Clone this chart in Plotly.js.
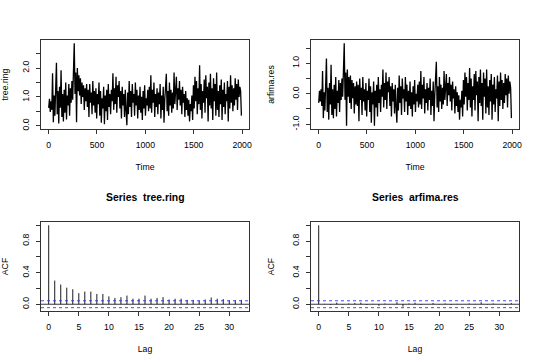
<!DOCTYPE html>
<html>
<head>
<meta charset="utf-8">
<script src="https://cdn.plot.ly/plotly-3.0.1.min.js"></script>
<style>html,body{margin:0;padding:0;background:#fff;}#chart{width:540px;height:360px;}</style>
</head>
<body>
<div id="chart"></div>
<script>
// Time index step used when reading the series off the picture (every 8 years, starting at 1)
const timeStart = 1;
const timeStep = 8;

// tree.ring series
const treeRing = [
 0.62,0.93,0.48,0.85,0.55,1.82,0.12,1.05,0.35,1.40,
 2.18,0.40,1.20,0.08,1.35,0.62,1.92,0.30,1.10,0.15,
 1.25,0.45,1.50,0.22,1.05,0.70,1.45,0.35,1.30,0.80,
 1.55,0.90,1.70,2.86,1.10,1.85,0.12,2.00,1.20,1.75,
 1.05,1.65,0.75,1.50,1.00,1.40,0.55,1.30,0.85,1.45,
 0.65,1.25,0.30,1.45,0.80,1.15,0.40,1.55,0.70,1.20,
 0.45,1.30,0.25,1.10,0.75,1.50,0.35,1.20,0.10,0.95,
 0.60,1.35,0.05,1.05,0.50,1.25,0.20,1.45,0.65,1.10,
 0.40,1.25,0.85,1.82,0.55,1.30,0.75,1.70,0.45,1.40,
 1.00,1.55,0.60,1.20,0.25,1.35,0.70,1.10,0.30,1.25,
 0.50,0.02,1.15,0.40,1.55,0.65,1.20,0.30,1.45,0.80,
 1.10,0.35,1.50,0.70,1.25,0.25,1.05,0.55,1.35,0.45,
 1.00,0.20,1.20,0.60,1.40,0.35,0.95,0.70,1.25,0.50,
 1.35,0.60,1.75,0.45,1.25,0.80,1.50,0.30,1.10,0.65,
 1.30,0.40,1.15,0.75,1.45,0.25,1.05,0.55,1.35,0.10,
 0.90,1.40,1.80,0.50,1.20,0.35,1.50,0.70,1.25,0.45,
 1.15,0.60,1.85,0.75,1.45,1.70,0.55,1.30,0.90,1.55,
 0.70,1.25,0.40,1.35,0.80,1.10,0.30,1.20,0.55,0.95,
 0.35,0.90,0.15,0.75,0.50,1.05,0.20,1.40,0.60,1.70,
 0.85,1.55,0.40,1.30,0.75,2.10,0.55,1.45,0.25,1.20,
 0.80,1.60,0.45,1.75,0.95,1.35,0.15,1.50,0.70,1.80,
 0.60,1.30,0.20,1.65,0.85,1.45,0.35,1.85,0.55,1.20,
 0.30,1.40,0.75,1.60,0.20,1.25,0.65,1.50,0.40,1.10,
 0.85,1.55,0.15,1.35,0.60,1.75,0.80,1.40,0.50,1.30,
 0.70,1.65,0.90,1.45,0.55,1.60,1.00,1.35,1.20,0.35
];

// arfima.res residual series
const arfimaRes = [
 -0.30,0.10,-0.25,0.15,-0.40,0.75,-0.80,0.05,-0.55,0.40,
 1.16,-0.60,0.20,-0.85,0.35,-0.35,0.95,-0.70,0.15,-0.80,
 0.30,-0.50,0.55,-0.75,0.10,-0.30,0.45,-0.60,0.35,-0.20,
 0.50,-0.10,0.65,1.66,-0.20,0.70,-1.05,0.80,-0.10,0.55,
 -0.30,0.60,-0.50,0.45,-0.15,0.35,-0.65,0.25,-0.35,0.40,
 -0.40,0.30,-0.90,0.50,-0.20,0.20,-0.70,0.55,-0.25,0.15,
 -0.55,0.35,-0.75,0.10,-0.20,0.50,-0.60,0.25,-0.95,0.05,
 -0.35,0.40,-1.05,0.10,-0.45,0.30,-0.75,0.55,-0.30,0.15,
 -0.60,0.30,-0.10,0.80,-0.45,0.35,-0.20,0.70,-0.50,0.40,
 0.05,0.55,-0.40,0.25,-0.75,0.35,-0.25,0.15,-0.65,0.30,
 -0.45,-0.95,0.20,-0.55,0.60,-0.30,0.25,-0.70,0.50,-0.15,
 0.15,-0.60,0.55,-0.25,0.30,-0.70,0.10,-0.40,0.40,-0.50,
 0.05,-0.75,0.25,-0.35,0.45,-0.60,0.00,-0.25,0.30,-0.45,
 0.40,-0.35,0.75,-0.50,0.30,-0.15,0.55,-0.65,0.15,-0.30,
 0.35,-0.55,0.20,-0.20,0.50,-0.70,0.10,-0.40,0.40,-0.90,
 -0.05,0.45,1.05,-0.45,0.25,-0.60,0.55,-0.25,0.30,-0.50,
 0.20,-0.35,0.75,-0.20,0.45,0.65,-0.40,0.35,-0.05,0.55,
 -0.25,0.30,-0.55,0.40,-0.15,0.15,-0.65,0.25,-0.40,0.05,
 -0.60,-0.05,-0.85,-0.20,-0.45,0.10,-0.75,0.45,-0.35,0.70,
 -0.10,0.55,-0.55,0.35,-0.20,0.85,-0.45,0.50,-0.75,0.25,
 -0.20,0.65,-0.55,0.75,-0.05,0.40,-0.90,0.55,-0.30,0.80,
 -0.40,0.35,-0.85,0.70,-0.10,0.50,-0.65,0.80,-0.45,0.25,
 -0.70,0.45,-0.25,0.65,-0.85,0.30,-0.35,0.55,-0.60,0.15,
 -0.15,0.60,-0.90,0.40,-0.40,0.70,-0.20,0.45,-0.50,0.35,
 -0.30,0.65,-0.05,0.50,-0.45,0.60,0.00,0.40,0.20,-0.80
];

// ACF values by lag
const lags = [0,1,2,3,4,5,6,7,8,9,10,11,12,13,14,15,16,17,18,19,20,21,22,23,24,25,26,27,28,29,30,31,32];
const acfTree = [1.00,0.30,0.25,0.21,0.19,0.14,0.16,0.16,0.13,0.13,0.10,0.08,0.09,0.11,0.07,0.07,0.11,0.07,0.08,0.09,0.06,0.07,0.07,0.055,0.055,0.045,0.06,0.085,0.07,0.065,0.05,0.05,0.055];
const acfRes = [1.00,0.005,-0.010,0.020,-0.005,0.010,0.015,0.020,-0.010,0.005,-0.020,0.010,0.000,0.025,-0.030,0.010,0.020,-0.010,0.000,0.015,-0.005,0.010,-0.010,0.005,0.000,0.010,0.005,0.025,-0.005,0.010,0.000,-0.010,0.015];
const ciBound = 0.0439;

// tick labels
const tsTicks = [0,500,1000,1500,2000];
const treeYTicks = [0,0.5,1,1.5,2,2.5];
const treeYText = ['0.0','','1.0','','2.0',''];
const resYTicks = [-1,-0.5,0,0.5,1,1.5];
const resYText = ['-1.0','','0.0','','1.0',''];
const acfYTicks = [0,0.2,0.4,0.6,0.8,1.0];
const acfYText = ['0.0','','0.4','','0.8',''];
const lagTicks = [0,5,10,15,20,25,30];

const timeIdx = treeRing.map((_, i) => timeStart + timeStep * i);

function stems(xs, ys) {
  const x = [], y = [];
  xs.forEach((v, i) => { x.push(v, v, null); y.push(0, ys[i], null); });
  return {x, y};
}
const s1 = stems(lags, acfTree), s2 = stems(lags, acfRes);

const FONT = 'Liberation Sans, Arial, Helvetica, sans-serif';
const fs = 8.7;

const traces = [
  {x: timeIdx, y: treeRing, type: 'scatter', mode: 'lines', line: {color: '#000', width: 1.3}, xaxis: 'x', yaxis: 'y', hoverinfo: 'skip'},
  {x: timeIdx, y: arfimaRes, type: 'scatter', mode: 'lines', line: {color: '#000', width: 1.3}, xaxis: 'x2', yaxis: 'y2', hoverinfo: 'skip'},
  {x: s1.x, y: s1.y, type: 'scatter', mode: 'lines', line: {color: '#000', width: 0.9}, xaxis: 'x3', yaxis: 'y3', hoverinfo: 'skip'},
  {x: s2.x, y: s2.y, type: 'scatter', mode: 'lines', line: {color: '#000', width: 0.9}, xaxis: 'x4', yaxis: 'y4', hoverinfo: 'skip'}
];

function ax(domain, range, tickvals, ticktext, title, angle) {
  return {
    domain: domain, range: range, autorange: false,
    tickmode: 'array', tickvals: tickvals, ticktext: ticktext || tickvals.map(String),
    ticks: 'outside', ticklen: 4, tickwidth: 0.8, tickcolor: '#000',
    showline: true, mirror: true, linecolor: '#000', linewidth: 0.8,
    showgrid: false, zeroline: false,
    tickfont: {family: FONT, size: fs, color: '#000'},
    tickangle: angle || 0,
    ticklabelstandoff: 4,
    title: {text: title, font: {family: FONT, size: fs, color: '#000'}, standoff: 14}
  };
}

const xd1 = [41/540, 249/540], xd2 = [311/540, 519/540];
const yd1 = [1 - 129/360, 1 - 40/360], yd2 = [1 - 311/360, 1 - 222/360];

const layout = {
  width: 540, height: 360,
  margin: {l: 0, r: 0, t: 0, b: 0},
  paper_bgcolor: '#fff', plot_bgcolor: '#fff',
  showlegend: false,
  font: {family: FONT, color: '#000'},
  xaxis: Object.assign(ax(xd1, [-78.6, 2071.6], tsTicks, null, 'Time'), {anchor: 'y'}),
  yaxis: Object.assign(ax(yd1, [-0.114, 2.974], treeYTicks, treeYText, 'tree.ring', -90), {anchor: 'x'}),
  xaxis2: Object.assign(ax(xd2, [-78.6, 2071.6], tsTicks, null, 'Time'), {anchor: 'y2'}),
  yaxis2: Object.assign(ax(yd1, [-1.158, 1.768], resYTicks, resYText, 'arfima.res', -90), {anchor: 'x2'}),
  xaxis3: Object.assign(ax(xd1, [-1.28, 33.28], lagTicks, null, 'Lag'), {anchor: 'y3'}),
  yaxis3: Object.assign(ax(yd2, [-0.0857, 1.0418], acfYTicks, acfYText, 'ACF', -90), {anchor: 'x3'}),
  xaxis4: Object.assign(ax(xd2, [-1.28, 33.28], lagTicks, null, 'Lag'), {anchor: 'y4'}),
  yaxis4: Object.assign(ax(yd2, [-0.0857, 1.0418], acfYTicks, acfYText, 'ACF', -90), {anchor: 'x4'}),
  shapes: [],
  annotations: [
    {text: '<b>Series  tree.ring</b>', x: 145/540, y: 1 - 197/360, xref: 'paper', yref: 'paper', showarrow: false, xanchor: 'center', yanchor: 'middle', font: {family: FONT, size: 10.4, color: '#000'}},
    {text: '<b>Series  arfima.res</b>', x: 415/540, y: 1 - 197/360, xref: 'paper', yref: 'paper', showarrow: false, xanchor: 'center', yanchor: 'middle', font: {family: FONT, size: 10.4, color: '#000'}}
  ]
};

[['x3','y3'],['x4','y4']].forEach(([xa, ya]) => {
  layout.shapes.push({type: 'line', xref: xa + ' domain', yref: ya, x0: 0, x1: 1, y0: 0, y1: 0, line: {color: '#000', width: 0.8}});
  layout.shapes.push({type: 'line', xref: xa + ' domain', yref: ya, x0: 0, x1: 1, y0: ciBound, y1: ciBound, line: {color: '#3333ee', width: 0.9, dash: '3px,3px'}});
  layout.shapes.push({type: 'line', xref: xa + ' domain', yref: ya, x0: 0, x1: 1, y0: -ciBound, y1: -ciBound, line: {color: '#3333ee', width: 0.9, dash: '3px,3px'}});
});

Plotly.newPlot('chart', traces, layout, {staticPlot: true, displayModeBar: false});
</script>
</body>
</html>
